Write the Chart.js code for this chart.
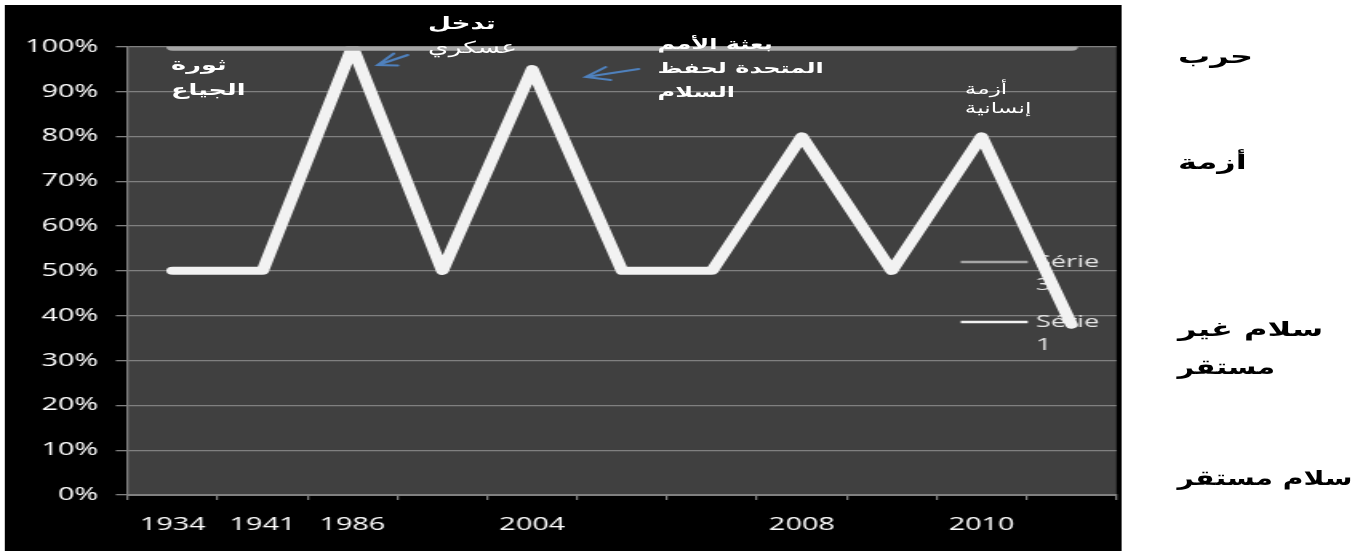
<!DOCTYPE html>
<html>
<head>
<meta charset="utf-8">
<script src="https://cdn.jsdelivr.net/npm/chart.js@4.4.1/dist/chart.umd.min.js"></script>
<style>
  html, body { margin:0; padding:0; background:#fff; overflow:hidden; }
  #stage { position:absolute; left:0; top:0; width:920px; height:551px; transform:scaleX(1.6); transform-origin:0 0; }
  #box { position:absolute; left:2.5px; top:5px; width:698.75px; height:546px; background:#000; }
  .ann { position:absolute; color:#fff; font-family:"DejaVu Sans", sans-serif; white-space:nowrap; text-align:left; }
  .side { position:absolute; color:#000; font-family:"DejaVu Sans", sans-serif; font-weight:bold; font-size:20px; line-height:32px; white-space:nowrap; text-align:left; transform-origin:0 0; }
</style>
</head>
<body>
<div id="stage">
  <div id="box"><canvas id="c"></canvas></div>

  <div class="ann" dir="rtl" style="left:106.9px; top:52px; font-size:16px; line-height:25px; font-weight:bold;">ثورة<br>الجياع</div>
  <div class="ann" dir="rtl" style="left:267.5px; top:12px; font-size:16.5px; line-height:24px;"><b>تدخل</b><br>عسكري</div>
  <div class="ann" dir="rtl" style="left:411px; top:32px; font-size:15px; line-height:24px; font-weight:bold;">بعثة الأمم<br>المتحدة لحفظ<br>السلام</div>
  <div class="ann" dir="rtl" style="left:603px; top:80px; font-size:14.5px; line-height:19px;">أزمة<br>إنسانية</div>

  <div class="side" dir="rtl" style="left:736.25px; top:40px;">حرب</div>
  <div class="side" dir="rtl" style="left:736.25px; top:146px;">أزمة</div>
  <div class="side" dir="rtl" style="left:736.25px; top:310px; line-height:38px;">سلام غير<br><span style="display:inline-block; transform:scaleX(0.9); transform-origin:0 0;">مستقر</span></div>
  <div class="side" dir="rtl" style="left:736.25px; top:462px; transform:scaleX(0.88);">سلام مستقر</div>
</div>

<script>
// ---- data ----
const categories = ['1934', '1941', '1986', '', '2004', '', '', '2008', '', '2010', ''];
const serie1 = [50, 50, 100, 50, 95, 50, 50, 80, 50, 80, 38];
const serie3 = [100, 100, 100, 100, 100, 100, 100, 100, 100, 100, 100];
const legendNames = ['Série 3', 'Série 1'];
const yMin = 0, yMax = 100, yStep = 10;

const SX = 1.6;               // horizontal stretch of the stage
const cx = fx => fx / SX - 2.5; // final-x -> canvas-x
const cy = fy => fy - 5;        // final-y -> canvas-y

const plotBg = {
  id: 'plotBg',
  beforeDraw(chart) {
    const {ctx, chartArea: a} = chart;
    ctx.save();
    ctx.fillStyle = '#404040';
    ctx.fillRect(a.left, a.top, a.right - a.left, a.bottom - a.top);
    ctx.restore();
  }
};

const legendPlugin = {
  id: 'wrapLegend',
  beforeDatasetsDraw(chart) {
    const ctx = chart.ctx;
    const items = [
      {name: legendNames[0], color: '#a6a6a6', y: 262},
      {name: legendNames[1], color: '#f2f2f2', y: 322}
    ];
    ctx.save();
    items.forEach(it => {
      ctx.strokeStyle = it.color;
      ctx.lineWidth = 2.5;
      ctx.beginPath();
      ctx.moveTo(cx(960), cy(it.y));
      ctx.lineTo(cx(1027), cy(it.y));
      ctx.stroke();
      const parts = it.name.split(' ');
      ctx.fillStyle = '#e6e6e6';
      ctx.font = '17px "Open Sans"';
      ctx.textBaseline = 'middle';
      ctx.textAlign = 'left';
      ctx.fillText(parts[0], cx(1035), cy(it.y));
      ctx.fillText(parts[1], cx(1035), cy(it.y + 23));
    });
    ctx.restore();
  }
};

const arrows = [
  {tail: [407, 55], head: [377, 65], b1: [393, 53.5], b2: [397, 65.5]},
  {tail: [638, 69], head: [585, 77], b1: [605, 67], b2: [610, 80]}
];
const arrowPlugin = {
  id: 'arrows',
  afterDraw(chart) {
    const ctx = chart.ctx;
    ctx.save();
    ctx.strokeStyle = '#4f81bd';
    ctx.lineWidth = 2;
    ctx.lineCap = 'round';
    arrows.forEach(a => {
      ctx.beginPath();
      ctx.moveTo(cx(a.tail[0]), cy(a.tail[1]));
      ctx.lineTo(cx(a.head[0]), cy(a.head[1]));
      ctx.moveTo(cx(a.b1[0]), cy(a.b1[1]));
      ctx.lineTo(cx(a.head[0]), cy(a.head[1]));
      ctx.lineTo(cx(a.b2[0]), cy(a.b2[1]));
      ctx.stroke();
    });
    ctx.restore();
  }
};

Chart.defaults.font.family = '"Open Sans"';

new Chart(document.getElementById('c'), {
  type: 'line',
  data: {
    labels: categories,
    datasets: [
      {label: legendNames[0], data: serie3, borderColor: '#a6a6a6', borderWidth: 8,
       pointRadius: 0, clip: 0, borderCapStyle: 'round', borderJoinStyle: 'round', tension: 0},
      {label: legendNames[1], data: serie1, borderColor: '#f2f2f2', borderWidth: 8,
       pointRadius: 0, clip: 0, borderCapStyle: 'round', borderJoinStyle: 'round', tension: 0}
    ]
  },
  options: {
    responsive: true,
    maintainAspectRatio: false,
    animation: false,
    events: [],
    layout: {padding: {top: 41.7, right: 1.25, bottom: 0, left: 0}},
    plugins: {legend: {display: false}, tooltip: {enabled: false}},
    scales: {
      x: {
        type: 'category',
        offset: true,
        afterFit(axis) { axis.height = 56; },
        grid: {offset: true, drawOnChartArea: false, drawTicks: true, tickLength: 5,
               color: '#808080', lineWidth: 1.25},
        border: {display: true, color: '#808080', width: 2},
        ticks: {color: '#ffffff', font: {size: 18}, padding: 14, maxRotation: 0, autoSkip: false}
      },
      y: {
        min: yMin, max: yMax,
        afterFit(axis) { axis.width = 76.9; },
        grid: {color: '#808080', lineWidth: 1.3, tickLength: 7.5, drawTicks: true},
        border: {display: true, color: '#808080', width: 1.25},
        ticks: {stepSize: yStep, color: '#ffffff', font: {size: 18}, padding: 11,
                callback: v => v + '%'}
      }
    }
  },
  plugins: [plotBg, legendPlugin, arrowPlugin]
});
</script>
</body>
</html>
